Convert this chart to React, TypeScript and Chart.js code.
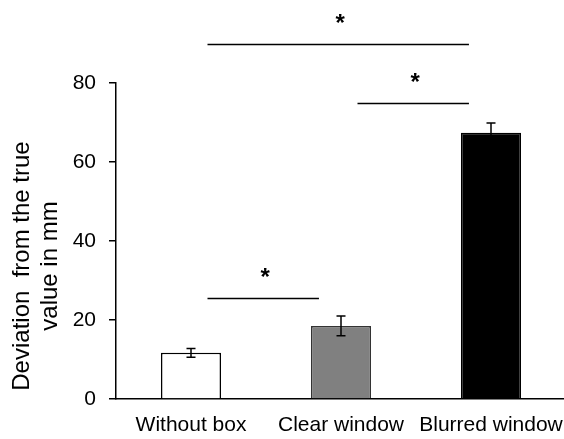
import React, { useEffect, useRef } from "react";
import { Chart, registerables } from "chart.js";

Chart.register(...registerables);

const categories = ["Without box", "Clear window", "Blurred window"];
const means = [11.7, 18.5, 67.4];
const errors = [1.1, 2.5, 2.5];
const yMin = 0;
const yMax = 80;
const yStep = 20;
const barFill = ["#ffffff", "#808080", "#000000"];
const barEdge = ["#000000", "#333333", "#000000"];
const sigFrom = [0, 1, 0];
const sigTo = [1, 2, 2];
const sigLevel = [25.6, 75.0, 89.8];
const sigLabel = ["*", "*", "*"];
const yTitle = ["Deviation  from the true", "value in mm"];

const FONT = "'Liberation Sans', Arial, sans-serif";

const errorBarPlugin = {
  id: "errorBars",
  afterDatasetsDraw(chart: any) {
    const { ctx } = chart;
    const xs = chart.scales.x;
    const ys = chart.scales.y;
    ctx.save();
    ctx.strokeStyle = "#000000";
    ctx.lineWidth = 1.5;
    means.forEach((m, i) => {
      const x = xs.getPixelForValue(i);
      const yt = ys.getPixelForValue(m + errors[i]);
      const yb = ys.getPixelForValue(m - errors[i]);
      ctx.beginPath();
      ctx.moveTo(x, yt);
      ctx.lineTo(x, yb);
      ctx.moveTo(x - 4.5, yt);
      ctx.lineTo(x + 4.5, yt);
      ctx.moveTo(x - 4.5, yb);
      ctx.lineTo(x + 4.5, yb);
      ctx.stroke();
    });
    ctx.restore();
  },
};

const bracketPlugin = {
  id: "brackets",
  afterDraw(chart: any) {
    const { ctx } = chart;
    const xs = chart.scales.x;
    const ys = chart.scales.y;
    const catW = xs.getPixelForValue(1) - xs.getPixelForValue(0);
    ctx.save();
    ctx.strokeStyle = "#000000";
    ctx.fillStyle = "#000000";
    ctx.lineWidth = 1.5;
    ctx.font = `bold 24px ${FONT}`;
    ctx.textAlign = "center";
    ctx.textBaseline = "alphabetic";
    sigFrom.forEach((a, i) => {
      const x1 = xs.getPixelForValue(a) + 0.11 * catW;
      const x2 = xs.getPixelForValue(sigTo[i]) - 0.147 * catW;
      const y = Math.round(ys.getPixelForValue(sigLevel[i])) + 0.5;
      ctx.beginPath();
      ctx.moveTo(x1, y);
      ctx.lineTo(x2, y);
      ctx.stroke();
      const m = ctx.measureText(sigLabel[i]);
      const asc = m.actualBoundingBoxAscent;
      const desc = m.actualBoundingBoxDescent;
      const cy = y - 26;
      ctx.fillText(sigLabel[i], (x1 + x2) / 2 + 2, cy + (asc - desc) / 2);
    });
    ctx.restore();
  },
};

const titlePlugin = {
  id: "yTitle",
  afterDraw(chart: any) {
    const { ctx, chartArea } = chart;
    ctx.save();
    ctx.fillStyle = "#000000";
    ctx.font = `24px ${FONT}`;
    ctx.textAlign = "center";
    ctx.textBaseline = "middle";
    ctx.translate(chartArea.left - 94, (chartArea.top + chartArea.bottom) / 2 + 25);
    ctx.rotate(-Math.PI / 2);
    yTitle.forEach((line, i) => {
      ctx.fillText(line, 0, i * 28);
    });
    ctx.restore();
  },
};

export default function App() {
  const ref = useRef<HTMLCanvasElement | null>(null);
  useEffect(() => {
    if (!ref.current) return;
    const chart = new Chart(ref.current, {
      type: "bar",
      data: {
        labels: categories,
        datasets: [
          {
            data: means,
            backgroundColor: barFill,
            borderColor: barEdge,
            borderWidth: 1.5,
            barPercentage: 0.4,
            categoryPercentage: 1,
          },
        ],
      },
      options: {
        responsive: false,
        animation: false,
        devicePixelRatio: 1,
        layout: { padding: { left: 56, right: 0, top: 83, bottom: 0 } },
        plugins: {
          legend: { display: false },
          tooltip: { enabled: false },
          title: { display: false },
        },
        scales: {
          x: {
            offset: true,
            grid: { display: false },
            border: { display: true, color: "#000000", width: 1.5 },
            ticks: {
              color: "#000000",
              font: { family: FONT, size: 21 },
              padding: 6,
              maxRotation: 0,
              autoSkip: false,
            },
            afterFit(scale: any) {
              scale.height = 40;
              scale.paddingLeft = 0;
              scale.paddingRight = 0;
            },
          },
          y: {
            min: yMin,
            max: yMax,
            grid: {
              display: true,
              drawOnChartArea: false,
              drawTicks: true,
              tickLength: 7,
              color: "#000000",
              lineWidth: 1.5,
            },
            border: { display: true, color: "#000000", width: 1.5 },
            ticks: {
              stepSize: yStep,
              color: "#000000",
              font: { family: FONT, size: 21 },
              padding: 13,
            },
            afterFit(scale: any) {
              scale.width = 60;
            },
          },
        },
      },
      plugins: [errorBarPlugin, bracketPlugin, titlePlugin],
    });
    return () => chart.destroy();
  }, []);
  return (
    <div
      style={{
        position: "fixed",
        left: 0,
        top: 0,
        width: 564,
        height: 439,
        overflow: "hidden",
        background: "#ffffff",
      }}
    >
      <canvas ref={ref} width={566} height={439} style={{ display: "block" }} />
    </div>
  );
}
